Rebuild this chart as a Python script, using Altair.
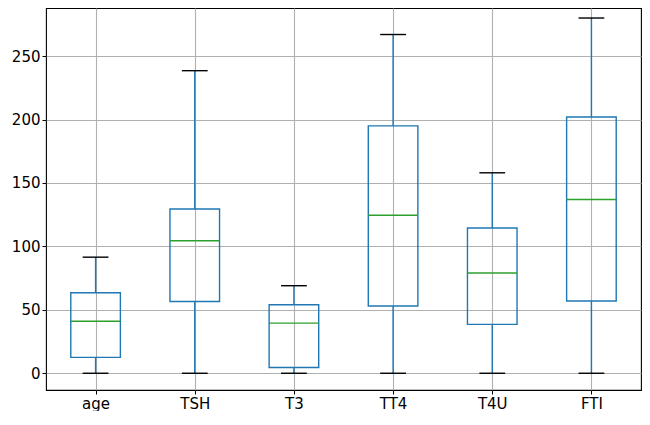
import json
import altair as alt
import pandas as pd

columns = ["age", "TSH", "T3", "TT4", "T4U", "FTI"]
lower = [0, 0, 0, 0, 0, 0]
q1 = [12.5, 56.5, 4.5, 53, 38.5, 57]
median = [41, 104.5, 39.5, 124.5, 79, 137]
q3 = [63.5, 129.5, 54, 195, 114.5, 202]
upper = [91.5, 238.5, 69, 267, 158, 280]

df = pd.DataFrame({
    "col": columns,
    "pos": list(range(1, len(columns) + 1)),
    "lower": lower, "q1": q1, "median": median, "q3": q3, "upper": upper,
})

blue = "#1f77b4"
green = "#2ca02c"
lw = 1.4

xscale = alt.Scale(domain=[0.5, 6.5], nice=False, zero=False)
yscale = alt.Scale(domain=[-13.2, 287.9], nice=False, zero=False)

xaxis = alt.Axis(values=list(range(1, len(columns) + 1)),
                 labelExpr=json.dumps(columns) + "[datum.value - 1]",
                 title=None, grid=True)
yaxis = alt.Axis(values=[0, 50, 100, 150, 200, 250], title=None, grid=True)

base = alt.Chart(df).transform_calculate(
    b0="datum.pos - 0.25", b1="datum.pos + 0.25",
    c0="datum.pos - 0.13", c1="datum.pos + 0.13",
)

x_pos = alt.X("pos:Q", scale=xscale, axis=xaxis)

w_low = base.mark_rule(color=blue, strokeWidth=lw).encode(
    x=x_pos, y=alt.Y("lower:Q", scale=yscale, axis=yaxis), y2="q1:Q")
w_high = base.mark_rule(color=blue, strokeWidth=lw).encode(
    x="pos:Q", y="q3:Q", y2="upper:Q")
box = base.mark_rect(fill="white", fillOpacity=0, stroke=blue, strokeWidth=lw).encode(
    x="b0:Q", x2="b1:Q", y="q1:Q", y2="q3:Q")
med = base.mark_rule(color=green, strokeWidth=lw).encode(
    x="b0:Q", x2="b1:Q", y="median:Q")
cap_low = base.mark_rule(color="black", strokeWidth=lw).encode(
    x="c0:Q", x2="c1:Q", y="lower:Q")
cap_high = base.mark_rule(color="black", strokeWidth=lw).encode(
    x="c0:Q", x2="c1:Q", y="upper:Q")

chart = alt.layer(w_low, w_high, box, med, cap_low, cap_high).properties(
    width=595, height=382,
    autosize="none",
    padding={"left": 38, "top": 0, "right": 1, "bottom": 21},
).configure_view(
    stroke="black", strokeWidth=1.1
).configure_axis(
    domain=False,
    gridColor="#b0b0b0", gridWidth=1.1,
    tickColor="black", tickSize=4, tickWidth=1,
    labelColor="black", labelFont="DejaVu Sans", labelFontSize=15,
    labelPadding=2,
)

chart.save("out.html", embed_options={"renderer": "svg", "actions": False})
